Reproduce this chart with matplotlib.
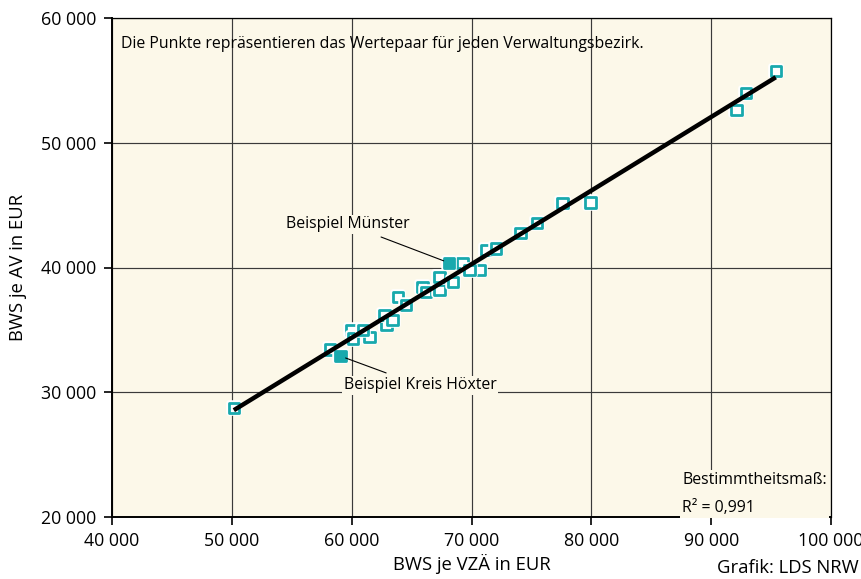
import matplotlib
matplotlib.use("Agg")
import matplotlib.pyplot as plt
import matplotlib.patheffects as pe
import numpy as np

plt.rcParams['font.family'] = ['Open Sans', 'DejaVu Sans']

# Data: BWS je VZÄ (x) and BWS je AV (y) per Verwaltungsbezirk
# (partly hidden points first so that later ones overlap them)
bws_vza = [59975, 61500, 62892, 63858, 65917, 69250, 70667, 71225,
           50167, 58167, 60108, 60942, 62750, 63392, 64558, 66225,
           67333, 67333, 68442, 69833, 72058, 74083, 75442, 77608,
           79917, 92108, 92892, 95392]
bws_av = [34984, 34447, 35385, 37652, 38454, 40353, 39792, 41394,
          28734, 33438, 34319, 34984, 36186, 35785, 36987, 38053,
          38189, 39255, 38854, 39792, 41530, 42781, 43582, 45184,
          45216, 52612, 54000, 55737]

# Highlighted examples
example_names = ["Beispiel Münster", "Beispiel Kreis Höxter"]
example_x = [68108, 59058]
example_y = [40377, 32901]

r2_text = "Bestimmtheitsmaß:\nR² = 0,991"

x_ticks = [40000, 50000, 60000, 70000, 80000, 90000, 100000]
y_ticks = [20000, 30000, 40000, 50000, 60000]

teal = "#18A9AD"
cream = "#FCF8E9"

fig = plt.figure(figsize=(8.61, 5.79), dpi=100)
ax = fig.add_axes([112/861, 1-517/579, 719/861, 499/579])
ax.set_facecolor(cream)
ax.set_xlim(40000, 100000)
ax.set_ylim(20000, 60000)
ax.set_xticks(x_ticks)
ax.set_yticks(y_ticks)
fmt = lambda v: f"{int(v):,}".replace(",", " ")
ax.set_xticklabels([fmt(v) for v in x_ticks])
ax.set_yticklabels([fmt(v) for v in y_ticks])
ax.tick_params(axis='both', direction='out', length=6, width=1.2, labelsize=12.8, colors='black')
ax.tick_params(axis='x', pad=5)
ax.tick_params(axis='y', pad=5)
ax.grid(True, color='#3a3a3a', linewidth=0.85, zorder=0)
ax.set_axisbelow(True)
for s in ['left', 'bottom']:
    ax.spines[s].set_linewidth(1.4)
for s in ['top', 'right']:
    ax.spines[s].set_linewidth(0.9)

halo = [pe.withStroke(linewidth=4.0, foreground='white')]
ax.scatter(bws_vza, bws_av, marker='s', s=56, facecolor='white', edgecolor=teal,
           linewidths=2.0, zorder=3, path_effects=halo)
ax.scatter(example_x, example_y, marker='s', s=56, facecolor=teal, edgecolor=teal,
           linewidths=2.0, zorder=4, path_effects=halo)

# Regression line
all_x = np.array(bws_vza + example_x, dtype=float)
all_y = np.array(bws_av + example_y, dtype=float)
k, d = np.polyfit(all_x, all_y, 1)
xl = np.array([all_x.min(), all_x.max()])
ax.plot(xl, k * xl + d, color='black', linewidth=3.2, zorder=5, solid_capstyle='butt')

# Annotations
fs_small = 11.4
ax.annotate(example_names[0], xy=(example_x[0], example_y[0]), xytext=(59700, 43450),
            ha='center', va='center', fontsize=fs_small,
            bbox=dict(boxstyle='square,pad=0.1', fc=cream, ec='none'),
            arrowprops=dict(arrowstyle='-', color='black', lw=0.8, shrinkA=6, shrinkB=4),
            zorder=6)
ax.annotate(example_names[1], xy=(example_x[1], example_y[1]), xytext=(65700, 30550),
            ha='center', va='center', fontsize=fs_small,
            bbox=dict(boxstyle='square,pad=0.1', fc=cream, ec='none'),
            arrowprops=dict(arrowstyle='-', color='black', lw=0.8, shrinkA=6, shrinkB=4),
            zorder=6)

ax.text(40750, 57900, "Die Punkte repräsentieren das Wertepaar für jeden Verwaltungsbezirk.",
        ha='left', va='center', fontsize=fs_small, zorder=6)
ax.text(87600, 21850, r2_text, ha='left', va='center', fontsize=fs_small, linespacing=2.0,
        bbox=dict(boxstyle='square,pad=0.15', fc=cream, ec='none'), zorder=6)

ax.set_xlabel("BWS je VZÄ in EUR", fontsize=13.3, labelpad=3)
ax.set_ylabel("BWS je AV in EUR", fontsize=13.3, labelpad=10)

fig.text(717/861, 1-568/579, "Grafik: LDS NRW", ha='left', va='center', fontsize=13.3)

fig.savefig("out.png", dpi=100)
